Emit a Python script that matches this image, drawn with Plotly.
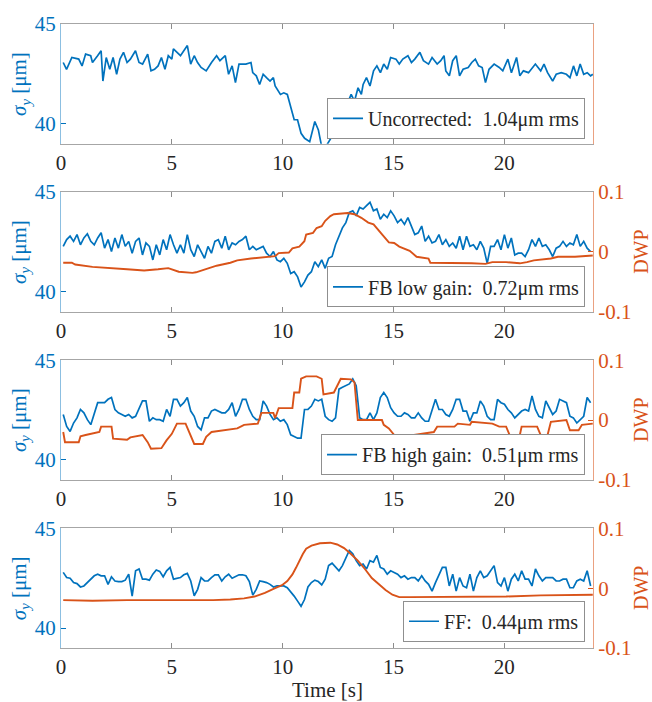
import plotly.graph_objects as go

BLUE = '#0072BD'
ORANGE = '#D95319'
FONT = '"Liberation Serif", "DejaVu Serif", "Times New Roman", serif'

# ---------------- data ----------------
labels = ['Uncorrected:  1.04\u03bcm rms', 'FB low gain:  0.72\u03bcm rms',
          'FB high gain:  0.51\u03bcm rms', 'FF:  0.44\u03bcm rms']

t_unc = [0.10,0.25,0.49,0.80,0.95,1.11,1.34,1.42,1.65,1.81,
         1.89,2.04,2.20,2.35,2.51,2.66,2.82,2.98,3.13,3.36,
         3.52,3.68,3.91,4.06,4.22,4.38,4.53,4.69,4.84,5.00,
         5.07,5.23,5.39,5.70,5.85,6.01,6.16,6.32,6.55,6.79,
         7.02,7.17,7.41,7.56,7.72,7.87,8.03,8.34,8.57,8.65,
         8.81,8.96,9.12,9.27,9.43,9.58,9.66,9.90,10.05,10.21,
         10.36,10.52,10.67,10.83,10.99,11.22,11.45,11.61,11.76,12.00,
         12.30,12.55,12.77,13.09,13.24,13.40,13.55,13.63,13.78,13.94,
         14.10,14.25,14.41,14.56,14.72,14.87,15.11,15.26,15.42,15.65,
         15.81,15.96,16.19,16.35,16.58,16.74,16.97,17.13,17.28,17.36,
         17.52,17.67,17.83,17.98,18.14,18.37,18.53,18.69,18.84,19.00,
         19.15,19.31,19.54,19.77,19.93,20.16,20.32,20.55,20.70,20.86,
         21.09,21.40,21.64,21.79,21.95,22.18,22.34,22.57,22.80,22.96,
         23.12,23.27,23.42,23.58,23.74,23.89,23.99]
sig_unc = [43.07,42.73,43.32,43.24,42.90,43.49,43.41,43.07,43.41,43.66,
           42.14,43.32,42.73,43.32,42.48,43.24,43.58,43.07,43.24,43.66,
           43.07,42.99,43.49,42.65,42.73,42.90,43.32,42.73,43.41,43.24,
           43.75,43.58,43.41,43.92,42.99,43.41,43.07,42.82,42.65,43.07,
           43.41,43.16,43.41,42.48,42.90,42.06,42.99,42.99,43.07,42.56,
           42.40,41.97,42.48,42.31,42.14,42.31,41.89,41.47,41.55,41.47,
           40.79,40.20,40.20,39.52,39.27,39.10,40.11,39.69,38.85,38.95,
           39.50,40.20,40.62,41.47,41.13,41.80,41.47,41.97,42.31,41.89,
           42.65,42.90,42.56,42.99,42.73,43.32,43.24,42.99,43.24,43.41,
           43.07,43.24,43.58,43.16,42.99,43.32,42.99,43.16,43.41,42.65,
           42.40,43.16,43.41,42.40,42.73,42.82,43.07,43.24,42.90,42.82,
           42.06,42.73,42.99,42.82,42.65,43.24,42.56,43.32,42.40,42.65,
           42.56,42.99,42.65,42.99,42.56,42.14,42.48,42.56,42.48,42.31,
           42.90,42.40,42.99,42.48,42.56,42.40,42.48]

# common sample times for the three corrected runs (s)
t_samp = [round(0.1 + 0.1555 * k, 3) for k in range(154)]

sig_fb_low = [42.28,42.62,42.79,42.53,42.87,42.36,42.70,42.91,42.53,42.36,
              42.70,42.96,42.19,42.62,42.02,42.70,42.19,42.87,42.28,42.53,
              41.94,42.53,42.70,41.85,42.45,42.28,41.60,42.36,41.85,42.62,
              42.11,42.87,42.36,41.94,42.36,41.94,42.87,42.11,41.77,42.36,
              42.02,41.68,42.28,41.94,42.53,42.62,42.19,42.79,42.11,42.45,
              42.36,42.53,42.62,42.79,42.11,42.28,42.11,42.19,42.28,41.94,
              41.77,42.02,41.60,41.51,41.68,41.43,40.92,41.01,40.75,40.24,
              40.50,40.84,41.01,41.51,41.26,41.60,41.18,41.68,41.77,42.36,
              42.79,43.21,43.47,43.98,44.06,43.81,44.23,44.15,44.32,44.49,
              44.06,44.15,43.64,43.89,43.72,44.06,43.81,43.47,43.64,43.38,
              43.72,43.30,42.87,42.96,43.30,42.53,42.79,42.45,42.53,42.87,
              42.36,42.62,42.28,42.45,42.19,42.79,42.11,42.79,42.28,42.36,
              42.11,42.53,42.19,41.43,42.28,42.28,42.62,42.11,42.87,42.19,
              42.70,41.85,41.94,41.94,41.77,42.11,42.62,42.28,42.70,42.28,
              42.36,42.11,41.77,42.19,42.28,42.53,42.28,42.45,42.36,42.87,
              42.28,42.53,42.19,42.02]

sig_fb_high = [42.28,41.68,41.43,41.85,42.11,42.53,42.36,42.02,41.77,42.28,
               42.87,42.87,42.87,43.04,43.13,42.53,42.36,42.28,42.19,42.28,
               42.11,42.19,42.62,42.96,42.96,41.94,42.11,42.02,42.02,41.94,
               42.53,42.19,43.04,43.04,42.70,42.87,43.13,42.45,42.19,41.68,
               41.51,42.11,42.11,42.45,42.53,42.45,42.36,42.36,42.53,42.87,
               42.19,42.53,43.04,43.04,42.53,42.19,42.02,42.02,42.96,42.70,
               42.28,42.02,42.11,41.94,42.02,41.77,41.26,41.18,41.09,41.09,
               42.53,42.53,42.70,43.04,42.96,43.04,42.19,42.02,41.94,42.11,
               43.55,43.64,43.72,43.81,44.06,43.72,42.11,42.02,42.02,42.36,
               42.02,42.36,43.13,43.38,43.13,42.62,42.36,42.19,42.19,42.36,
               42.28,42.11,42.11,42.36,42.11,41.94,41.94,42.45,43.04,42.53,
               42.53,42.28,42.19,42.53,43.04,43.04,42.45,42.45,41.94,42.36,
               42.36,42.96,42.70,42.19,42.02,42.02,43.04,42.87,42.79,42.53,
               42.36,42.11,42.28,42.45,42.53,42.45,43.21,42.53,42.19,42.11,
               42.96,42.62,42.28,42.45,43.04,42.96,42.87,42.19,42.11,41.85,
               42.02,42.19,43.13,42.87]

sig_ff = [42.79,42.53,42.50,42.28,42.23,42.06,42.11,42.28,42.40,42.62,
          42.70,42.62,42.62,42.19,42.57,42.36,42.33,42.33,42.40,42.70,
          41.60,42.87,42.96,42.45,42.45,42.40,42.70,42.91,42.84,42.57,
          42.87,43.04,42.45,42.50,42.53,42.67,42.74,42.36,41.62,41.94,
          42.53,42.36,42.36,42.53,42.67,42.67,42.36,42.57,42.70,42.50,
          42.57,42.67,42.67,42.62,42.33,41.65,41.94,42.36,42.33,42.28,
          42.19,42.06,42.11,42.11,42.11,42.02,41.82,41.60,41.35,41.09,
          41.43,42.06,42.28,42.40,42.33,42.16,42.45,43.13,43.25,43.04,
          42.87,43.13,43.47,43.89,43.72,43.38,43.13,43.21,42.96,43.38,
          43.30,43.64,43.04,42.96,42.70,42.87,42.79,42.70,42.53,42.62,
          42.45,42.53,42.53,42.36,42.62,42.36,42.19,41.85,42.28,42.70,
          43.04,43.04,42.11,42.70,41.85,42.53,42.11,42.02,42.70,41.85,
          42.53,42.87,42.53,42.62,42.87,43.13,42.28,42.11,42.53,41.85,
          42.45,42.70,42.36,42.87,42.45,42.45,42.11,42.96,42.62,42.36,
          42.53,42.53,42.53,42.36,42.36,42.45,42.45,42.02,42.02,42.36,
          42.45,42.36,42.87,42.11]

t_dwp_low = [0.10,0.49,0.64,1.42,2.98,3.75,4.38,4.84,5.31,5.93,
             6.09,6.55,7.02,7.64,7.95,8.57,9.20,9.66,9.82,10.28,
             10.44,10.75,10.98,11.06,11.37,11.53,11.76,11.92,12.15,12.31,
             12.93,13.24,13.55,13.86,14.10,14.33,14.56,14.79,15.03,15.26,
             15.73,16.04,16.58,16.66,17.75,18.53,19.15,19.46,20.08,20.70,
             21.02,21.33,22.10,22.42,23.19,23.99]
dwp_low = [-0.018,-0.018,-0.021,-0.025,-0.029,-0.031,-0.029,-0.027,-0.033,-0.035,
           -0.034,-0.029,-0.023,-0.018,-0.014,-0.011,-0.009,-0.007,-0.002,-0.001,
           0.006,0.009,0.018,0.029,0.032,0.040,0.043,0.052,0.060,0.063,
           0.065,0.063,0.057,0.049,0.046,0.035,0.026,0.016,0.015,0.009,
           0.002,-0.008,-0.011,-0.018,-0.018,-0.019,-0.020,-0.017,-0.017,-0.019,
           -0.017,-0.014,-0.011,-0.008,-0.008,-0.006]

t_dwp_high = [0.10,0.18,0.80,0.88,1.11,1.73,1.81,2.28,2.35,2.98,
              3.13,3.68,3.91,4.06,4.53,4.76,5.00,5.23,5.62,5.85,
              6.01,6.40,6.55,6.79,7.33,7.95,8.26,8.88,9.04,9.58,
              9.66,9.82,10.44,10.52,10.75,10.83,11.06,11.53,11.76,11.84,
              12.31,12.62,13.08,13.24,13.39,14.48,14.56,14.79,15.03,15.18,
              15.34,15.88,16.35,16.82,16.97,17.75,17.90,18.45,18.53,19.46,
              19.77,20.08,20.24,20.70,20.78,21.48,21.64,21.95,22.10,22.80,
              22.96,23.35,23.50,23.99]
dwp_high = [-0.020,-0.037,-0.037,-0.027,-0.025,-0.020,-0.011,-0.011,-0.031,-0.033,
            -0.029,-0.025,-0.037,-0.048,-0.047,-0.034,-0.023,-0.006,-0.006,-0.028,
            -0.040,-0.040,-0.028,-0.020,-0.017,-0.014,-0.008,-0.006,0.012,0.012,
            0.003,0.020,0.020,0.046,0.046,0.069,0.073,0.073,0.069,0.043,
            0.046,0.069,0.068,0.063,0.000,0.000,-0.008,-0.014,-0.025,-0.037,
            -0.028,-0.025,-0.023,-0.020,-0.011,-0.011,-0.006,-0.008,-0.003,-0.006,
            -0.011,-0.011,-0.025,-0.025,-0.011,-0.011,-0.025,-0.025,-0.003,0.000,
            -0.017,-0.017,-0.008,-0.006]

t_dwp_ff = [0.10,1.42,2.98,4.53,6.09,6.86,7.64,8.26,8.73,9.20,
            9.66,9.97,10.21,10.44,10.60,10.75,10.91,11.06,11.30,11.68,
            12.15,12.46,12.77,13.08,13.39,13.71,14.02,14.33,14.64,14.95,
            15.26,15.73,16.97,18.53,20.08,21.64,23.99]
dwp_ff = [-0.020,-0.021,-0.020,-0.020,-0.021,-0.020,-0.019,-0.017,-0.014,-0.008,
          0.000,0.005,0.012,0.023,0.034,0.046,0.057,0.066,0.071,0.075,
          0.076,0.073,0.067,0.057,0.046,0.032,0.017,0.007,-0.003,-0.011,
          -0.015,-0.015,-0.015,-0.014,-0.014,-0.012,-0.011]

x_ticks = [0, 5, 10, 15, 20]
sig_ticks = [40, 45]
dwp_ticks = [-0.1, 0, 0.1]
dwp_ticktext = ['-0.1', '0', '0.1']

panels = [
    (t_unc, sig_unc, None, None),
    (t_samp, sig_fb_low, t_dwp_low, dwp_low),
    (t_samp, sig_fb_high, t_dwp_high, dwp_high),
    (t_samp, sig_ff, t_dwp_ff, dwp_ff),
]

# ---------------- layout geometry ----------------
domains = [(0.8082, 1.0), (0.5388, 0.7306), (0.2694, 0.4612), (0.0, 0.1918)]
legend_y = [0.816, 0.546, 0.277, 0.010]

fig = go.Figure()
layout = dict(
    width=652, height=702,
    margin=dict(l=61, r=59, t=17, b=54),
    paper_bgcolor='white', plot_bgcolor='white',
    font=dict(family=FONT, size=20, color='#262626'),
    annotations=[],
)

for i, (tb, vb, to, vo) in enumerate(panels):
    xn = '' if i == 0 else str(i + 1)
    yln = '' if i == 0 else str(2 * i + 1)
    yrn = str(2 * i + 2)
    leg = 'legend' if i == 0 else 'legend%d' % (i + 1)

    fig.add_trace(go.Scatter(
        x=tb, y=vb, mode='lines', name=labels[i],
        line=dict(color=BLUE, width=1.7),
        xaxis='x' + xn, yaxis='y' + yln, legend=leg))
    if to is not None:
        fig.add_trace(go.Scatter(
            x=to, y=vo, mode='lines', showlegend=False,
            line=dict(color=ORANGE, width=1.9),
            xaxis='x' + xn, yaxis='y' + yrn))
    else:
        fig.add_trace(go.Scatter(
            x=[], y=[], mode='lines', showlegend=False, hoverinfo='skip',
            xaxis='x' + xn, yaxis='y' + yrn))

    layout['xaxis' + xn] = dict(
        domain=[0, 1], anchor='y' + yln, range=[0, 24],
        tickvals=x_ticks, ticks='inside', ticklen=5, tickcolor='#8c8c8c',
        showline=True, linecolor='#a6a6a6', linewidth=1, mirror='ticks',
        showgrid=False, zeroline=False,
        tickfont=dict(family=FONT, size=21, color='#262626'))
    layout['yaxis' + yln] = dict(
        domain=list(domains[i]), anchor='x' + xn, range=[39, 45],
        tickvals=sig_ticks, ticks='inside', ticklen=5, tickcolor=BLUE,
        showline=True, linecolor='rgba(0,114,189,0.45)', linewidth=1,
        showgrid=False, zeroline=False,
        tickfont=dict(family=FONT, size=21, color=BLUE))
    right = dict(
        overlaying='y' + yln, side='right', anchor='x' + xn,
        range=[-0.1, 0.1], tickvals=dwp_ticks, ticktext=dwp_ticktext,
        ticks='inside', ticklen=5, tickcolor=ORANGE,
        showline=True, linecolor='rgba(217,83,25,0.55)', linewidth=1,
        showgrid=False, zeroline=False,
        tickfont=dict(family=FONT, size=21, color=ORANGE))
    if to is None:
        right.update(showticklabels=False, ticks='')
    layout['yaxis' + yrn] = right

    layout[leg] = dict(
        x=0.985, y=legend_y[i], xanchor='right', yanchor='bottom',
        bgcolor='white', bordercolor='#8f8f8f', borderwidth=1,
        font=dict(family=FONT, size=20, color='#262626'),
        itemwidth=30, tracegroupgap=0)

    yc = sum(domains[i]) / 2
    layout['annotations'].append(dict(
        text='<i>\u03c3</i><sub><i>y</i></sub> [\u03bcm]', xref='paper', yref='paper',
        x=-0.077, y=yc, xanchor='center', yanchor='middle', textangle=-90,
        showarrow=False, font=dict(family=FONT, size=21, color=BLUE)))
    if to is not None:
        layout['annotations'].append(dict(
            text='DWP', xref='paper', yref='paper',
            x=1.090, y=yc, xanchor='center', yanchor='middle', textangle=-90,
            showarrow=False, font=dict(family=FONT, size=20, color=ORANGE)))

layout['annotations'].append(dict(
    text='Time [s]', xref='paper', yref='paper', x=0.5, y=-0.0666,
    xanchor='center', yanchor='middle', showarrow=False,
    font=dict(family=FONT, size=21, color='#262626')))

fig.update_layout(**layout)
fig.write_html('out.html')
